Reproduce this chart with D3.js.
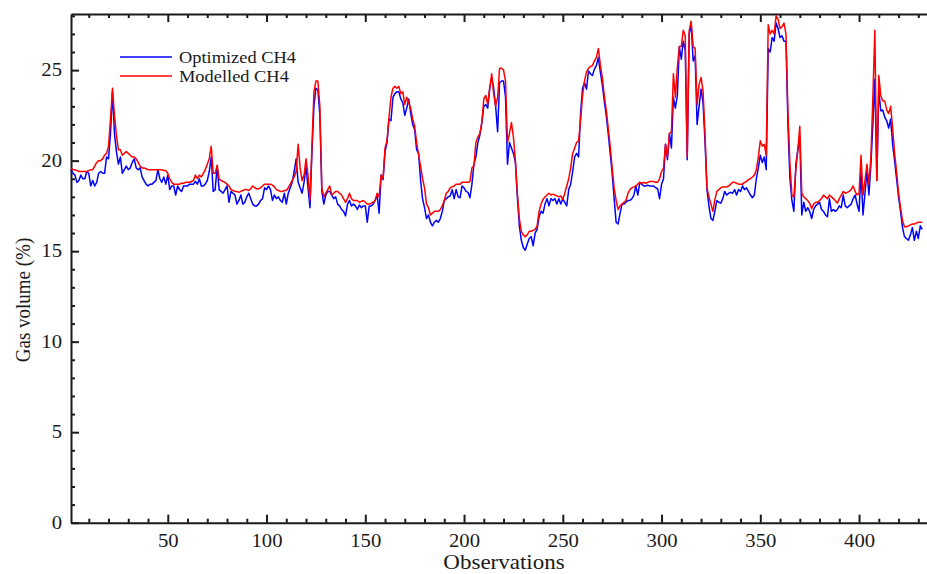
<!DOCTYPE html>
<html>
<head>
<meta charset="utf-8">
<script src="https://cdn.jsdelivr.net/npm/d3@7"></script>
<style>
  body { margin: 0; background: #fff; }
  svg { display: block; }
  text { font-family: "Liberation Serif", "Times New Roman", serif; fill: #1a1a1a; }
  .axis path, .axis line { stroke: #1a1a1a; stroke-width: 2px; }
</style>
</head>
<body>
<div id="chart"></div>
<script>
var optimized = [
  19.5, 19.3, 19.2, 18.8, 18.9, 19.2, 19.0, 19.0, 19.4, 19.3,
  18.6, 18.9, 18.6, 18.8, 19.3, 19.4, 19.3, 19.3, 20.2, 20.1,
  21.5, 23.8, 21.5, 20.5, 19.8, 20.2, 19.3, 19.5, 19.7, 19.5,
  19.6, 19.9, 20.1, 19.6, 19.5, 19.6, 19.1, 18.9, 18.7, 18.6,
  18.7, 18.7, 18.8, 18.9, 19.5, 19.0, 18.8, 19.1, 18.7, 19.2,
  18.4, 18.6, 18.6, 18.1, 18.6, 18.4, 18.3, 18.6, 18.6, 18.6,
  18.7, 18.7, 18.7, 18.85, 18.7, 19.0, 18.6, 18.6, 18.7, 18.9,
  19.4, 20.2, 18.3, 18.4, 19.7, 18.4, 18.3, 18.2, 18.4, 18.6,
  17.7, 18.3, 18.2, 18.1, 17.6, 17.8, 18.1, 17.6, 17.7, 18.0,
  18.2, 17.9, 17.6, 17.5, 17.5, 17.6, 17.8, 17.9, 18.5, 18.4,
  18.6, 18.4, 17.8, 18.1, 17.9, 18.0, 17.8, 17.7, 18.2, 17.6,
  18.2, 18.5, 18.8, 19.4, 20.1, 18.8, 18.5, 18.2, 18.8, 19.7,
  18.5, 17.4, 20.5, 23.0, 24.0, 23.9, 22.5, 18.3, 17.6, 18.1,
  18.3, 18.3, 18.1, 17.9, 18.0, 17.6, 17.5, 17.3, 17.2, 16.95,
  17.6, 17.8, 17.5, 17.6, 17.5, 17.3, 17.55, 17.4, 17.5, 17.5,
  16.6, 17.5, 17.5, 17.6, 17.8, 18.1, 17.1, 19.2, 18.95, 20.5,
  21.0, 22.3, 22.2, 23.5, 23.7, 23.8, 23.8, 23.4, 23.2, 22.5,
  22.9, 23.4, 22.6, 22.0, 21.7, 20.6, 20.4, 18.9, 17.9, 17.4,
  16.8, 17.0, 16.6, 16.4, 16.6, 16.7, 16.6, 16.8, 17.2, 17.8,
  17.9, 18.0, 18.05, 18.4, 17.9, 18.4, 18.0, 17.95, 18.6, 18.5,
  18.3, 18.25, 17.95, 18.7, 19.8, 20.2, 21.0, 21.4, 22.1, 23.0,
  23.1, 22.9, 24.0, 24.6, 24.0, 23.0, 21.6, 24.3, 24.4, 24.4,
  23.5, 19.8, 21.0, 20.7, 20.4, 19.9, 18.0, 16.4, 15.6, 15.2,
  15.05, 15.4, 15.7, 15.8, 15.3, 16.0, 16.2, 16.9, 17.2, 17.1,
  17.6, 17.9, 17.5, 17.9, 17.8, 17.9, 17.6, 17.9, 17.6, 17.9,
  17.7, 17.5, 18.4, 18.7, 19.4, 20.2, 20.4, 20.2, 22.6, 24.0,
  24.3, 23.95, 24.95, 24.8, 24.7, 25.05, 25.25, 25.7, 24.9, 24.2,
  23.3, 22.5, 21.5, 20.4, 19.3, 17.9, 16.6, 16.5, 17.1, 17.6,
  17.6, 17.7, 17.8, 17.8, 17.9, 18.1, 18.6, 18.1, 18.8, 18.7,
  18.6, 18.6, 18.65, 18.6, 18.6, 18.6, 18.5, 18.45, 17.9, 18.7,
  19.0, 20.9, 20.05, 21.5, 20.7, 23.5, 22.9, 23.6, 26.3, 25.6,
  26.6, 26.1, 20.05, 27.0, 27.5, 25.5, 25.8, 22.0, 23.0, 23.95,
  23.2, 21.1, 18.4, 17.5, 16.8, 16.7, 17.2, 17.8, 17.7, 17.65,
  17.9, 18.3, 18.1, 18.2, 18.25, 18.2, 18.4, 18.1, 18.4, 18.3,
  18.6, 18.4, 18.5, 18.3, 18.1, 17.95, 18.1, 19.0, 19.6, 20.3,
  19.9, 20.2, 19.5, 26.2, 26.0, 26.8, 26.6, 27.6, 27.3, 26.8,
  26.9, 26.6, 26.6, 22.0, 19.0, 17.8, 17.2, 19.8, 20.6, 21.3,
  17.0, 17.7, 17.2, 17.4, 17.2, 16.8, 17.3, 17.5, 17.6, 17.7,
  17.3, 17.2, 17.0, 16.9, 17.9, 17.2, 17.3, 17.2, 17.3, 17.5,
  17.4, 18.1, 17.5, 17.4, 17.5, 17.6, 17.9, 18.1, 17.6, 17.2,
  19.4, 17.0, 18.2, 19.4, 18.1, 19.8, 22.0, 24.5, 18.9, 23.9,
  22.75, 22.8, 22.4, 22.2, 21.8, 22.3, 20.9, 20.0, 19.0, 18.0,
  17.2, 16.3, 15.8, 15.7, 15.6, 15.9, 16.3, 15.6, 16.1, 15.7,
  16.4, 16.2
];

var modelled = [
  19.6, 19.5, 19.5, 19.45, 19.4, 19.4, 19.4, 19.4, 19.4, 19.45,
  19.5, 19.5, 19.7, 19.9, 20.0, 20.0, 20.1, 20.3, 20.4, 20.8,
  22.3, 24.0, 22.5, 21.4, 20.6, 20.6, 20.3, 20.4, 20.5, 20.4,
  20.3, 20.2, 20.2, 20.1, 19.9, 19.7, 19.6, 19.6, 19.55, 19.5,
  19.5, 19.5, 19.5, 19.5, 19.5, 19.5, 19.5, 19.45, 19.45, 19.3,
  19.0, 18.8, 18.7, 18.7, 18.7, 18.7, 18.75, 18.75, 18.8, 18.8,
  18.8, 18.85, 18.9, 19.2, 19.0, 19.2, 19.1, 19.3, 19.5, 19.8,
  20.1, 20.8, 19.3, 19.3, 19.75, 19.0, 18.9, 18.85, 18.8, 18.7,
  18.6, 18.4, 18.35, 18.3, 18.3, 18.25, 18.3, 18.35, 18.4, 18.4,
  18.35, 18.45, 18.6, 18.5, 18.45, 18.45, 18.5, 18.6, 18.7, 18.7,
  18.7, 18.7, 18.65, 18.55, 18.4, 18.35, 18.3, 18.3, 18.35, 18.35,
  18.5, 18.7, 18.9, 19.1, 19.4, 20.9, 19.6, 18.9, 19.2, 20.1,
  19.2, 17.8, 20.8, 23.8, 24.4, 24.4, 23.0, 18.5, 18.0, 18.2,
  18.4, 18.6, 18.1, 18.2, 18.3, 18.3, 18.2, 18.1, 17.9, 17.7,
  17.9, 18.2, 17.9, 17.8, 17.8, 17.8, 17.7, 17.75, 17.8, 17.7,
  17.6, 17.6, 17.65, 17.7, 17.8, 18.2, 18.0, 19.2, 19.0, 20.7,
  21.1, 22.4, 23.5, 24.0, 24.1, 24.0, 24.1, 23.7, 23.8, 23.1,
  23.5, 23.2, 22.9, 22.3, 21.9, 21.0, 20.3, 19.7, 19.0, 18.5,
  17.6, 17.4, 17.0, 17.1, 17.2, 17.2, 17.2, 17.3, 17.5, 17.8,
  18.2, 18.3, 18.5, 18.55, 18.6, 18.7, 18.7, 18.7, 18.8, 18.8,
  18.8, 18.8, 18.85, 19.6, 19.7, 21.0, 21.3, 21.5, 22.1, 23.4,
  23.6, 23.1, 24.0, 24.8, 23.7, 23.0, 23.5, 25.1, 25.1, 25.0,
  24.4, 21.0, 21.5, 22.1, 21.3, 20.0, 18.2, 16.8, 16.1, 15.9,
  15.8, 15.9, 16.1, 16.1, 16.15, 16.2, 16.4, 17.2, 17.6, 17.85,
  18.0, 18.1, 18.2, 18.1, 18.15, 18.1, 18.05, 18.0, 18.05, 17.85,
  18.2, 18.6, 19.0, 19.6, 20.4, 20.7, 21.0, 21.1, 22.2, 23.6,
  24.4, 24.9, 25.1, 25.2, 25.25, 25.5, 25.7, 26.2, 25.3, 24.6,
  23.6, 22.8, 21.8, 20.8, 19.6, 18.5, 17.8, 17.3, 17.5, 17.6,
  17.7, 17.8, 18.2, 18.4, 18.5, 18.55, 18.6, 18.7, 18.8, 18.75,
  18.8, 18.75, 18.8, 18.85, 18.85, 18.85, 18.8, 18.8, 19.0, 19.4,
  19.6, 20.9, 20.2, 21.5, 21.6, 24.8, 23.5, 25.15, 26.3, 26.3,
  27.2, 26.9, 20.2, 27.2, 27.7, 26.3, 26.2, 23.1, 24.2, 24.6,
  23.85, 21.5, 18.5, 18.0, 17.6, 17.2, 17.85, 18.3, 18.4, 18.5,
  18.55, 18.55, 18.55, 18.6, 18.7, 18.8, 18.8, 18.75, 18.7, 18.7,
  18.7, 18.8, 18.85, 18.95, 19.0, 19.1, 19.2, 19.5, 20.2, 21.1,
  20.8, 20.9, 20.3, 27.5, 27.0, 27.2, 27.0, 28.0, 27.8, 27.3,
  27.4, 27.6, 27.0, 22.6, 19.8, 18.1, 18.0, 19.5, 20.6, 21.9,
  18.2, 18.0, 17.9, 17.8, 17.65, 17.35, 17.6, 17.7, 17.7, 17.8,
  17.9, 18.1, 18.0, 17.9, 18.1, 18.0, 17.9, 17.8, 17.65, 17.9,
  18.1, 18.3, 18.2, 18.25, 18.3, 18.4, 18.6, 18.3, 18.1, 18.2,
  20.3, 18.1, 18.9, 19.8, 18.7, 20.2, 23.5, 27.2, 18.9, 24.7,
  23.6, 23.3, 23.3, 22.8, 22.6, 23.0, 21.8, 20.4, 19.4, 18.2,
  17.4, 16.7, 16.35, 16.35, 16.4, 16.45, 16.5, 16.5, 16.55, 16.6,
  16.6, 16.6
];

var seriesNames = ["Optimized CH4", "Modelled CH4"],
    seriesColors = ["#0000ff", "#ff0000"],
    xMajorTicks = [50, 100, 150, 200, 250, 300, 350, 400],
    yMajorTicks = [0, 5, 10, 15, 20, 25];

var width = 927,
    height = 574,
    plotLeft = 71,
    plotRight = 927,
    plotTop = 14,
    plotBottom = 522.7,
    stretch = 1.15;   // the figure's lettering is a bit wider than tall

var x = d3.scaleLinear().domain([1, 434.4]).range([plotLeft, plotRight]),
    y = d3.scaleLinear().domain([0, 28.1]).range([plotBottom, plotTop]);

var svg = d3.select("#chart").append("svg")
    .attr("width", width)
    .attr("height", height);

function minorOf(step, max, majors) {
  return d3.range(step, max, step).filter(function(v) { return majors.indexOf(v) < 0; });
}

// minor ticks first, then major axes on top
svg.append("g").attr("class", "axis")
    .attr("transform", "translate(0," + plotBottom + ")")
    .call(d3.axisBottom(x).tickValues(minorOf(10, 434, xMajorTicks)).tickSizeInner(-4).tickSizeOuter(0).tickFormat(""))
    .select(".domain").remove();
svg.append("g").attr("class", "axis")
    .attr("transform", "translate(0," + plotTop + ")")
    .call(d3.axisTop(x).tickValues(minorOf(10, 434, xMajorTicks)).tickSizeInner(-4).tickSizeOuter(0).tickFormat(""))
    .select(".domain").remove();
svg.append("g").attr("class", "axis")
    .attr("transform", "translate(" + plotLeft + ",0)")
    .call(d3.axisLeft(y).tickValues(minorOf(1, 28.1, yMajorTicks)).tickSizeInner(-4).tickSizeOuter(0).tickFormat(""))
    .select(".domain").remove();

var xAxis = svg.append("g").attr("class", "axis")
    .attr("transform", "translate(0," + plotBottom + ")")
    .call(d3.axisBottom(x).tickValues(xMajorTicks).tickSizeInner(-8).tickSizeOuter(0).tickPadding(12));
svg.append("g").attr("class", "axis")
    .attr("transform", "translate(0," + plotTop + ")")
    .call(d3.axisTop(x).tickValues(xMajorTicks).tickSizeInner(-8).tickSizeOuter(0).tickFormat(""));
var yAxis = svg.append("g").attr("class", "axis")
    .attr("transform", "translate(" + plotLeft + ",0)")
    .call(d3.axisLeft(y).tickValues(yMajorTicks).tickSizeInner(-8).tickSizeOuter(0).tickPadding(9));

xAxis.selectAll("text")
    .style("font-size", "18px")
    .attr("transform", "scale(" + stretch + ",1)");
yAxis.selectAll("text")
    .style("font-size", "18px")
    .attr("x", -9 / stretch)
    .attr("transform", "scale(" + stretch + ",1)");

// series lines
var line = d3.line()
    .x(function(d, i) { return x(i + 1); })
    .y(function(d) { return y(d); });

svg.append("g").selectAll(".series").data([optimized, modelled])
    .enter().append("path")
    .attr("class", "series")
    .attr("d", line)
    .style("fill", "none")
    .style("stroke", function(d, i) { return seriesColors[i]; })
    .style("stroke-width", "1.5px")
    .style("stroke-linejoin", "round");

// legend
var legend = svg.append("g").selectAll(".legend").data(seriesNames)
    .enter().append("g")
    .attr("class", "legend")
    .attr("transform", function(d, i) { return "translate(120," + (57 + i * 19) + ")"; });
legend.append("line")
    .attr("x1", 0).attr("x2", 52)
    .attr("y1", 0).attr("y2", 0)
    .style("stroke", function(d, i) { return seriesColors[i]; })
    .style("stroke-width", "1.5px");
legend.append("text")
    .attr("transform", "translate(59,6) scale(" + stretch + ",1)")
    .style("font-size", "16px")
    .text(function(d) { return d; });

// axis titles
svg.append("text")
    .attr("transform", "translate(504,569) scale(" + stretch + ",1)")
    .attr("text-anchor", "middle")
    .style("font-size", "20px")
    .text("Observations");
svg.append("text")
    .attr("transform", "translate(30,300) scale(" + stretch + ",1) rotate(-90)")
    .attr("text-anchor", "middle")
    .style("font-size", "19px")
    .text("Gas volume (%)");
</script>
</body>
</html>
